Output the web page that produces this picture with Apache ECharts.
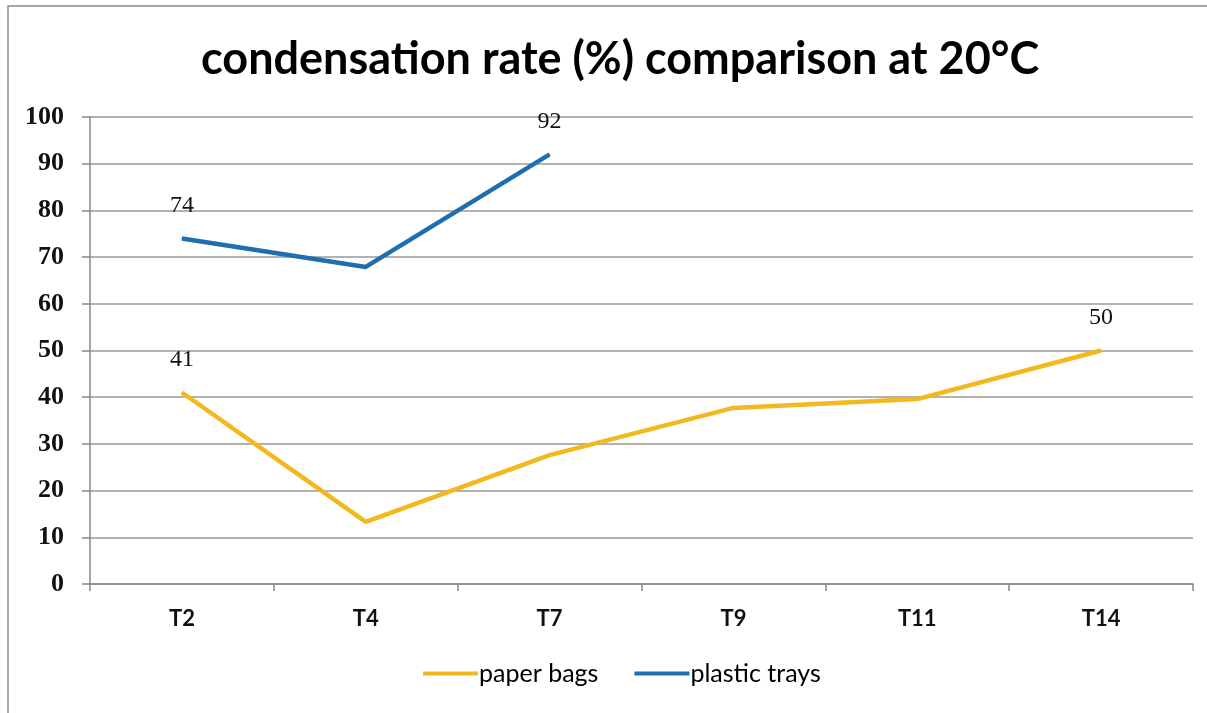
<!DOCTYPE html>
<html>
<head>
<meta charset="utf-8">
<script src="https://cdn.jsdelivr.net/npm/echarts@6/dist/echarts.min.js"></script>
<style>
  html, body { margin: 0; padding: 0; background: #fff; }
  #chart { width: 1207px; height: 713px; }
</style>
</head>
<body>
<div id="chart"></div>
<script>
const categories = ['T2', 'T4', 'T7', 'T9', 'T11', 'T14']
const paperBags = [41, 13.3, 27.6, 37.7, 39.6, 50]
const plasticTrays = [74, 67.9, 92]

// show the value only on the first and last point, like the original
function endLabels(values) {
  return values.map((v, i) => ({
    value: v,
    label: { show: i === 0 || i === values.length - 1 },
  }))
}

const myChart = echarts.init(document.getElementById('chart'))

const labelStyle = {
  show: false,
  position: 'top',
  distance: 20,
  fontFamily: 'Liberation Serif',
  fontSize: 24,
  color: '#111',
  formatter: p => String(Math.round(p.value)),
}

const option = {
  backgroundColor: '#fff',
  animation: false,
  graphic: [
    {
      type: 'rect',
      shape: { x: 8, y: 6, width: 1230, height: 740 },
      style: { fill: 'none', stroke: '#8a8a8a', lineWidth: 1.5 },
      silent: true,
    },
  ],
  title: {
    text: 'condensation rate (%) comparison at 20°C',
    left: 196,
    top: 32,
    textStyle: {
      fontFamily: 'Lato',
      fontWeight: 'bold',
      fontSize: 45,
      color: '#000',
    },
  },
  legend: {
    bottom: 22,
    left: 418,
    itemWidth: 55,
    itemHeight: 4,
    itemGap: 36,
    icon: 'rect',
    textStyle: { fontFamily: 'Lato', fontSize: 25, color: '#000', padding: [0, 0, 0, -4] },
    data: ['paper bags', 'plastic trays'],
  },
  grid: {
    left: 90,
    right: 14,
    top: 117,
    bottom: 129,
  },
  xAxis: {
    type: 'category',
    boundaryGap: true,
    data: categories,
    axisLine: { lineStyle: { color: '#888', width: 1.5 } },
    axisTick: { show: true, length: 7, alignWithLabel: false, lineStyle: { color: '#888', width: 1.5 } },
    axisLabel: {
      margin: 24,
      fontFamily: 'Lato',
      fontWeight: 'bold',
      fontSize: 22,
      color: '#111',
    },
  },
  yAxis: {
    type: 'value',
    min: 0,
    max: 100,
    interval: 10,
    axisLine: { show: true, lineStyle: { color: '#888', width: 1.5 } },
    axisTick: { show: true, length: 8, lineStyle: { color: '#888', width: 1.5 } },
    splitLine: { lineStyle: { color: '#999', width: 1.5 } },
    axisLabel: {
      margin: 26,
      fontFamily: 'Liberation Serif',
      fontWeight: 'bold',
      fontSize: 26,
      color: '#111',
    },
  },
  series: [
    {
      name: 'paper bags',
      type: 'line',
      data: endLabels(paperBags),
      symbol: 'circle',
      symbolSize: 1,
      showSymbol: true,
      color: '#F2B91E',
      lineStyle: { width: 4.5, color: '#F2B91E' },
      label: labelStyle,
    },
    {
      name: 'plastic trays',
      type: 'line',
      data: endLabels(plasticTrays),
      symbol: 'circle',
      symbolSize: 1,
      showSymbol: true,
      color: '#1F6EB0',
      lineStyle: { width: 4.5, color: '#1F6EB0' },
      label: labelStyle,
    },
  ],
}

myChart.setOption(option, true)
</script>
</body>
</html>
